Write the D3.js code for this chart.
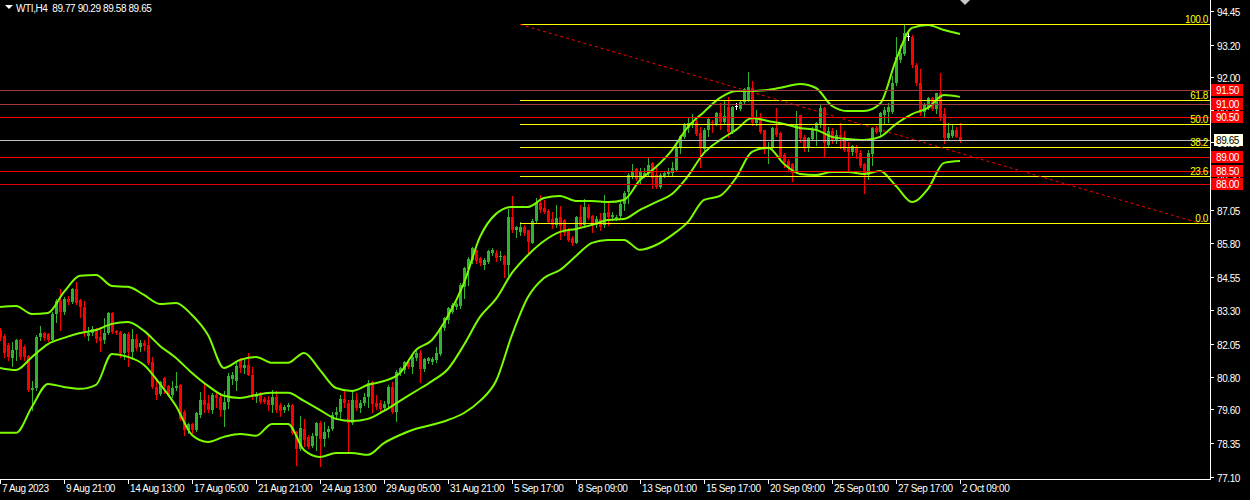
<!DOCTYPE html>
<html><head><meta charset="utf-8">
<script src="https://cdn.jsdelivr.net/npm/d3@7"></script>
<style>
body{margin:0;background:#000;overflow:hidden}
svg{display:block}
text{font-family:"Liberation Sans",Arial,sans-serif;font-size:10px;letter-spacing:-0.4px}
</style>
</head><body>
<svg id="chart" width="1250" height="500"></svg>
<script>
// ---- data ----
const symbol = "WTI,H4";
const lastBar = {open: 89.77, high: 90.29, low: 89.58, close: 89.65};

const opens = [82.56,82.34,82.00,81.52,81.82,82.19,81.93,81.60,80.33,80.41,82.30,82.45,82.41,82.19,83.16,83.64,83.23,83.72,83.61,84.09,
83.68,83.42,82.34,82.45,82.60,82.30,82.19,82.45,83.20,82.52,82.49,81.71,82.41,81.75,82.23,81.93,82.08,82.00,81.37,80.44,
80.18,80.78,80.48,80.14,80.41,80.52,79.51,78.84,79.06,78.84,79.40,79.96,79.84,79.58,80.14,80.07,79.58,79.88,80.72,80.67,
81.45,81.15,81.26,80.89,80.07,80.22,79.99,79.96,79.77,80.07,79.77,79.58,79.70,79.77,78.77,78.13,78.88,78.58,78.24,78.62,
79.10,78.50,78.77,78.88,79.40,79.51,79.99,79.84,79.10,79.96,79.66,79.84,80.07,80.63,79.84,79.84,79.66,79.81,80.44,79.51,
81.00,81.07,81.37,81.19,81.52,81.71,81.11,81.41,81.37,81.45,81.67,82.64,82.94,83.23,83.42,83.46,84.17,84.84,85.17,85.55,
85.25,84.99,85.10,85.44,85.44,85.28,85.32,84.99,86.77,86.29,86.22,86.40,86.29,85.81,86.62,87.30,87.11,87.00,86.70,86.48,
86.77,86.66,86.29,85.99,85.81,86.77,86.48,87.15,86.81,86.48,86.70,86.48,86.96,86.77,86.70,86.81,87.26,87.71,88.27,88.56,
88.19,88.30,88.41,88.78,88.34,87.89,88.30,88.38,88.41,88.53,89.38,89.76,90.09,90.20,90.32,89.90,89.31,90.02,90.32,90.24,
90.65,90.32,90.87,89.94,90.91,90.80,91.06,91.13,91.58,90.28,90.46,90.02,89.31,89.38,90.09,89.90,89.08,88.85,88.75,88.41,
90.57,89.76,89.38,89.68,89.98,90.20,90.84,89.46,89.98,89.61,89.83,89.76,89.35,89.20,89.35,89.16,88.75,88.34,89.12,90.09,
89.94,90.57,90.69,90.69,91.77,92.62,92.85,93.52,93.48,92.44,91.77,90.69,90.84,91.21,90.80,91.39,90.61,89.72,89.79,90.02,
89.77];
const highs = [82.64,82.41,82.08,82.12,82.23,82.23,82.00,81.62,80.67,82.38,82.71,82.49,82.45,83.23,83.72,84.09,83.79,83.83,84.13,84.35,
83.72,83.64,82.67,82.71,82.62,82.67,83.01,83.23,83.23,82.56,82.52,82.45,82.49,82.60,82.41,82.19,82.19,82.34,81.56,80.78,
80.67,80.82,80.52,80.67,81.00,80.55,79.58,79.10,79.10,79.51,80.26,80.59,80.14,80.22,80.22,80.22,80.29,80.96,81.00,81.34,
81.52,81.45,81.71,81.19,80.26,80.26,80.07,80.11,80.33,80.29,79.84,79.77,79.84,79.79,78.80,79.36,79.25,78.65,78.73,79.14,
79.17,79.14,78.99,79.51,79.70,80.14,80.37,79.96,80.29,80.22,79.96,80.22,80.70,80.67,80.14,79.96,79.92,80.52,80.63,81.07,
81.19,81.41,81.48,81.71,81.82,81.82,81.52,81.56,81.56,81.93,82.67,83.05,83.42,83.57,83.61,84.32,84.91,85.28,85.66,85.55,
85.28,85.25,85.55,85.62,85.55,85.51,85.36,87.07,87.56,86.44,86.59,86.48,86.29,86.70,87.48,87.59,87.41,87.07,86.96,87.22,
87.18,86.70,86.37,86.07,86.81,87.22,87.45,87.26,86.85,86.81,86.92,87.59,87.30,86.96,86.85,87.37,87.74,88.41,88.75,88.60,
88.60,88.60,88.97,88.82,88.71,88.41,88.49,88.60,88.82,89.46,89.83,90.28,90.50,90.61,90.39,90.13,90.09,90.46,90.39,90.69,
91.02,91.13,91.24,90.91,91.02,91.13,91.58,92.18,91.84,90.76,90.65,90.02,89.57,90.13,90.84,89.94,89.16,88.93,88.78,90.72,
90.57,89.83,89.76,90.13,90.32,90.98,90.87,90.13,90.09,90.02,90.28,89.98,89.57,89.46,89.46,89.27,88.78,89.27,90.13,90.16,
90.69,90.87,91.02,92.03,93.48,93.18,93.96,93.74,93.56,92.51,92.29,91.02,91.24,91.24,91.39,92.14,90.84,90.28,90.20,90.13,
90.29];
const lows = [82.19,81.56,81.45,81.22,81.45,81.48,81.45,80.30,79.58,80.33,82.19,82.19,82.15,82.15,82.86,82.56,83.16,83.53,83.57,83.53,
83.05,82.34,82.19,82.38,82.12,81.78,82.08,82.41,82.45,82.41,81.56,81.48,81.22,81.48,81.82,81.78,81.82,81.30,80.41,79.99,
80.14,80.22,80.11,80.07,80.33,79.21,78.65,78.73,78.73,78.80,79.33,79.51,79.51,79.47,79.70,79.36,78.99,79.66,80.55,80.33,
81.00,80.96,80.89,79.99,79.88,79.84,79.84,79.58,79.51,79.51,79.36,79.51,79.58,78.69,77.53,78.09,78.24,78.17,78.21,78.09,
77.50,78.24,78.58,78.84,79.25,79.25,79.70,78.06,79.06,79.58,79.51,79.77,79.70,79.51,79.62,79.55,79.62,79.66,79.47,79.17,
80.89,80.96,81.15,80.96,81.45,80.63,81.04,81.34,81.30,81.37,81.63,82.56,82.82,83.20,83.35,83.38,83.76,84.24,85.06,85.06,
84.99,84.84,85.06,85.36,85.14,85.17,84.54,84.61,86.22,86.03,86.10,86.10,85.47,85.81,86.55,86.96,86.92,86.55,86.37,86.40,
85.95,86.10,85.88,85.73,85.81,86.40,86.40,86.70,86.22,86.40,86.29,86.40,86.48,86.66,86.66,86.74,87.04,87.30,88.23,88.15,
88.04,88.27,88.34,87.85,87.85,87.85,88.27,88.30,88.34,88.49,89.16,89.72,89.94,90.13,89.83,88.64,89.27,89.79,89.94,90.20,
90.05,90.28,89.76,89.90,90.80,90.76,91.02,91.10,90.20,90.20,89.90,89.16,88.78,89.35,89.79,88.90,88.64,88.53,88.12,88.41,
89.57,89.23,89.23,89.64,89.46,90.13,89.01,89.38,89.53,89.53,89.35,89.23,88.53,89.08,88.97,88.64,87.67,88.19,88.71,89.90,
89.83,90.28,90.32,90.65,91.69,92.55,92.81,93.37,92.36,91.69,90.58,90.54,90.80,90.76,90.65,90.39,89.53,89.64,89.76,89.76,
89.58];
const closes = [82.26,81.71,81.56,81.82,82.19,81.56,81.56,80.33,80.41,82.30,82.45,82.26,82.19,83.16,83.64,83.23,83.72,83.61,84.09,83.57,
83.42,82.45,82.45,82.60,82.23,82.15,82.45,83.20,82.49,82.45,81.71,82.41,81.75,82.23,81.89,82.08,81.97,81.34,80.44,80.14,
80.63,80.48,80.14,80.41,80.48,79.25,78.84,79.06,78.84,79.47,79.96,79.77,79.58,80.14,80.03,79.58,79.88,80.85,80.90,81.22,
81.15,81.26,80.89,80.07,80.18,79.88,79.88,79.77,80.07,79.58,79.55,79.70,79.77,78.73,78.13,78.91,78.47,78.21,78.62,79.10,
78.50,78.77,78.88,79.40,79.51,79.99,79.84,79.10,79.96,79.66,79.84,80.07,80.59,79.81,79.70,79.62,79.81,80.44,79.51,81.00,
81.15,81.37,81.19,81.56,81.71,81.11,81.48,81.52,81.48,81.71,82.64,83.01,83.38,83.49,83.53,84.24,84.87,85.21,85.62,85.14,
85.06,85.17,85.51,85.55,85.25,85.32,84.99,86.77,86.29,86.40,86.40,86.18,85.84,86.62,87.30,87.04,86.96,86.59,86.48,86.74,
86.44,86.18,85.92,85.81,86.77,86.44,87.15,86.74,86.44,86.70,86.40,86.92,86.77,86.85,86.77,87.26,87.67,88.34,88.49,88.19,
88.45,88.41,88.71,88.23,87.89,88.34,88.41,88.45,88.60,89.38,89.79,90.20,90.28,90.32,89.87,89.35,90.02,90.43,90.28,90.65,
90.32,90.54,89.94,90.87,90.91,91.06,91.54,91.62,90.28,90.50,89.94,89.27,89.38,90.09,89.83,88.97,88.82,88.64,88.41,90.20,
89.72,89.35,89.72,90.02,90.28,90.84,89.53,89.98,89.61,89.83,89.76,89.27,89.20,89.42,89.16,88.67,88.34,89.16,90.09,89.94,
90.65,90.76,90.87,91.77,92.74,92.88,93.63,93.52,92.44,91.77,90.65,90.95,91.21,90.80,91.39,90.50,89.72,89.90,90.02,89.76,
89.65];

// Bollinger Bands (20, 2) read every 4 bars
const bandStep = 4;
const bbUpper = [83.42,83.46,83.16,83.20,83.98,84.58,84.61,84.20,84.17,83.87,83.53,83.57,83.12,82.38,81.15,81.45,81.56,81.34,81.34,81.71,
81.07,80.40,80.29,80.52,80.66,80.96,81.82,82.19,83.09,84.32,86.03,86.89,87.15,87.15,87.48,87.56,87.37,87.37,87.33,87.41,
88.15,88.64,89.27,90.13,90.69,91.21,91.47,91.47,91.51,91.62,91.73,91.58,90.91,90.72,90.72,90.99,92.62,93.82,93.93,93.74,93.59];
const bbMiddle = [81.15,81.07,81.56,82.04,82.27,82.45,82.56,82.79,82.86,82.53,81.97,81.52,80.96,80.48,80.11,80.03,80.14,80.22,80.22,79.92,
79.58,79.25,79.17,79.25,79.55,79.92,80.29,80.66,81.11,82.01,83.05,83.72,84.69,85.36,85.88,86.22,86.33,86.48,86.66,86.70,
87.04,87.33,87.63,88.30,89.16,89.64,90.02,90.46,90.35,90.24,90.09,90.02,89.76,89.68,89.64,89.76,90.24,90.61,90.84,91.32,91.25];
const bbLower = [78.73,78.73,79.70,80.55,80.44,80.37,80.52,81.67,81.56,81.26,80.55,79.73,78.65,78.39,78.58,78.69,78.62,79.06,79.06,78.09,
77.83,77.98,77.98,77.91,78.35,78.65,78.88,79.03,79.21,79.47,79.92,80.66,82.38,83.79,84.50,84.80,85.32,85.81,85.92,85.92,
85.55,85.73,86.10,86.59,87.41,87.56,88.23,89.20,89.35,88.75,88.38,88.34,88.45,88.45,88.38,88.49,87.93,87.33,87.82,88.79,88.86];

// horizontal levels
const srLevels = [91.50, 91.00, 90.50, 89.00, 88.50, 88.00];
const srColors = ["#a23a3a", "#a23a3a", "#ff0000", "#ff0000", "#ff0000", "#e00000"];
const bidPrice = 89.65;

// Fibonacci retracement
const fibHigh = 93.95, fibLow = 86.54;
const fibStartBar = 130, fibEndBar = 300;
const fibLevels = [100.0, 61.8, 50.0, 38.2, 23.6, 0.0];

// axes
const priceTicks = [94.45, 93.20, 92.00, 90.75, 89.55, 88.30, 87.05, 85.80, 84.55, 83.30, 82.05, 80.80, 79.60, 78.35, 77.10];
const timeTickBars = [0,16,32,48,64,80,96,112,128,144,160,176,192,208,224,240];
const timeLabels = ["7 Aug 2023","9 Aug 21:00","14 Aug 13:00","17 Aug 05:00","21 Aug 21:00","24 Aug 13:00","29 Aug 05:00",
"31 Aug 21:00","5 Sep 17:00","8 Sep 09:00","13 Sep 01:00","15 Sep 17:00","20 Sep 09:00","25 Sep 01:00","27 Sep 17:00","2 Oct 09:00"];

// ---- drawing ----
const plotRight = 1210, plotBottom = 479;
const svg = d3.select("#chart");
svg.append("rect").attr("width",1250).attr("height",500).attr("fill","#000");

const x = d3.scaleLinear().domain([0, 240]).range([0, 960]);
const y = d3.scaleLinear().domain([77.01, 94.86]).range([plotBottom, 0]);

svg.append("defs").append("clipPath").attr("id","plot")
  .append("rect").attr("x",0).attr("y",0).attr("width",plotRight).attr("height",plotBottom);
const plot = svg.append("g").attr("clip-path","url(#plot)");

const UP = "#32b432", DOWN = "#ff0000", DOJI = "#ffffff";
const candles = opens.map((o,i)=>({i, o, h:highs[i], l:lows[i], c:closes[i]}));
const cg = plot.append("g");
candles.forEach(d=>{
  const cx = Math.round(x(d.i));
  const col = d.c > d.o ? UP : (d.c < d.o ? DOWN : DOJI);
  const yh = Math.round(y(d.h)), yl = Math.round(y(d.l));
  cg.append("rect").attr("x",cx).attr("y",yh).attr("width",1).attr("height",Math.max(1,yl-yh+1)).attr("fill",col);
  const yt = Math.round(y(Math.max(d.o,d.c))), yb = Math.round(y(Math.min(d.o,d.c)));
  cg.append("rect").attr("x",cx-1).attr("y",yt).attr("width",3).attr("height",Math.max(1,yb-yt)).attr("fill",col);
});

// Bollinger bands
const bandIdx = bbUpper.map((_,k)=>k*bandStep);
const line = d3.line().x((d,k)=>x(bandIdx[k])).y(d=>y(d)).curve(d3.curveMonotoneX);
[bbUpper, bbMiddle, bbLower].forEach(arr=>{
  plot.append("path").attr("d", line(arr)).attr("fill","none").attr("stroke","#7cfc00").attr("stroke-width",2);
});

// S/R lines
srLevels.forEach((v,k)=>{
  const yy = Math.round(y(v)) + 0.5;
  plot.append("line").attr("x1",0).attr("x2",plotRight).attr("y1",yy).attr("y2",yy).attr("stroke",srColors[k]).attr("stroke-width",1);
});
// bid line
{
  const yy = Math.round(y(bidPrice)) + 0.5;
  plot.append("line").attr("x1",0).attr("x2",plotRight).attr("y1",yy).attr("y2",yy).attr("stroke","#c0c0c0").attr("stroke-width",1);
}
// fib
const fibX0 = x(fibStartBar), fibX1 = x(fibEndBar);
fibLevels.forEach(lv=>{
  const v = fibLow + (fibHigh - fibLow) * lv / 100;
  const yy = Math.round(y(v)) + 0.5;
  plot.append("line").attr("x1",fibX0).attr("x2",plotRight).attr("y1",yy).attr("y2",yy).attr("stroke","#ffff00").attr("stroke-width",1);
  svg.append("text").attr("x",plotRight-2).attr("y",yy-2).attr("text-anchor","end").attr("fill","#ffff00").text(lv.toFixed(1));
});
plot.append("line").attr("x1",fibX0).attr("y1",y(fibHigh)).attr("x2",fibX1).attr("y2",y(fibLow))
  .attr("stroke","#ff0000").attr("stroke-width",1).attr("stroke-dasharray","3,3");

// axes lines
svg.append("line").attr("x1",plotRight+0.5).attr("x2",plotRight+0.5).attr("y1",0).attr("y2",plotBottom+1).attr("stroke","#ffffff");
svg.append("line").attr("x1",0).attr("x2",plotRight+1).attr("y1",plotBottom+0.5).attr("y2",plotBottom+0.5).attr("stroke","#ffffff");

// price ticks
priceTicks.forEach(v=>{
  const yy = Math.round(y(v)) + 0.5;
  svg.append("line").attr("x1",plotRight).attr("x2",plotRight+4).attr("y1",yy).attr("y2",yy).attr("stroke","#ffffff");
  svg.append("text").attr("x",plotRight+7).attr("y",yy+4).attr("fill","#ffffff").text(v.toFixed(2));
});
// time ticks
timeTickBars.forEach((b,k)=>{
  const xx = Math.round(x(b)) + 0.5;
  svg.append("line").attr("x1",xx).attr("x2",xx).attr("y1",plotBottom).attr("y2",plotBottom+5).attr("stroke","#ffffff");
  svg.append("text").attr("x",xx+1.5).attr("y",plotBottom+13).attr("fill","#ffffff").text(timeLabels[k]);
});

// S/R price boxes
srLevels.forEach(v=>{
  const yy = Math.round(y(v));
  svg.append("rect").attr("x",plotRight+1).attr("y",yy-6).attr("width",32).attr("height",12).attr("fill","#ff0000");
  svg.append("text").attr("x",plotRight+6).attr("y",yy+4).attr("fill","#ffffff").text(v.toFixed(2));
});
// bid box
{
  const yy = Math.round(y(bidPrice));
  svg.append("rect").attr("x",plotRight+4).attr("y",yy-6).attr("width",29).attr("height",12).attr("fill","#ffffe6");
  svg.append("text").attr("x",plotRight+6).attr("y",yy+4).attr("fill","#000000").text(bidPrice.toFixed(2));
}

// header
svg.append("path").attr("d","M5,5 L13,5 L9,9 Z").attr("fill","#ffffff");
svg.append("text").attr("x",16).attr("y",12).attr("fill","#ffffff").attr("xml:space","preserve").style("white-space","pre")
  .text(`${symbol}  ${lastBar.open.toFixed(2)} ${lastBar.high.toFixed(2)} ${lastBar.low.toFixed(2)} ${lastBar.close.toFixed(2)}`);
// chart shift marker
svg.append("path").attr("d","M960,0 L970,0 L965,5 Z").attr("fill","#c8c8c8");
</script>
</body></html>
